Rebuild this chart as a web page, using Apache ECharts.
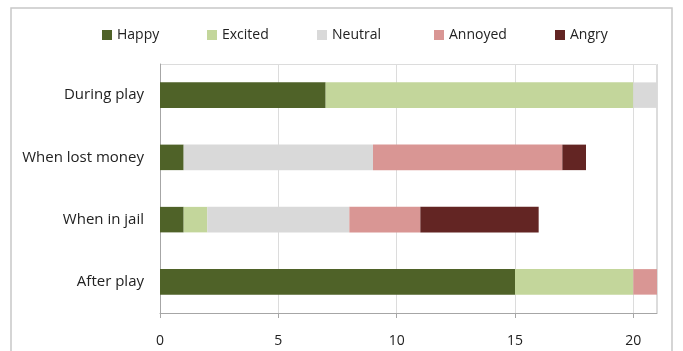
<!DOCTYPE html>
<html>
<head>
<meta charset="utf-8">
<script src="https://cdn.jsdelivr.net/npm/echarts@6/dist/echarts.min.js"></script>
<style>
  html, body { margin: 0; padding: 0; background: #fff; }
  #main { width: 683px; height: 351px; }
</style>
</head>
<body>
<div id="main"></div>
<script>
// 类目（从上到下）
var categories = ['During play', 'When lost money', 'When in jail', 'After play'];
var happy   = [7, 1, 1, 15];
var excited = [13, 0, 1, 5];
var neutral = [1, 8, 6, 0];
var annoyed = [0, 8, 3, 1];
var angry   = [0, 1, 5, 0];
var xTicks = [0, 5, 10, 15, 20];

var seriesNames = ['Happy', 'Excited', 'Neutral', 'Annoyed', 'Angry'];
var seriesData = [happy, excited, neutral, annoyed, angry];
var colors = ['#4f6228', '#c3d69b', '#d9d9d9', '#d99694', '#632523'];
// 图例每项的左边位置
var legendLeft = [102, 207, 317, 434, 555];

var myChart = echarts.init(document.getElementById('main'));
var font = '"Open Sans", "Liberation Sans", sans-serif';

var series = [];
var legends = [];
for (var i = 0; i < seriesNames.length; i++) {
    series.push({
        name: seriesNames[i],
        type: 'bar',
        stack: 'all',
        barWidth: '41%',
        data: seriesData[i],
        itemStyle: { color: colors[i] }
    });
    legends.push({
        data: [seriesNames[i]],
        top: 28,
        left: legendLeft[i],
        padding: 0,
        itemWidth: 10,
        itemHeight: 10,
        itemGap: 0,
        icon: 'rect',
        textStyle: { fontSize: 14, color: '#222', fontFamily: font }
    });
}

var option = {
    animation: false,
    color: colors,
    textStyle: { fontFamily: font },
    legend: legends,
    grid: {
        left: 160,
        right: 26,
        top: 64,
        bottom: 38
    },
    xAxis: {
        type: 'value',
        min: 0,
        max: 21,
        interval: 5,
        axisLine: { show: true, lineStyle: { color: '#a6a6a6' } },
        axisTick: { show: true, length: 5, lineStyle: { color: '#a6a6a6' } },
        axisLabel: {
            color: '#222',
            fontSize: 14,
            margin: 21,
            showMaxLabel: false,
            formatter: function (v) {
                return xTicks.indexOf(v) >= 0 ? String(v) : '';
            }
        },
        splitLine: { show: true, lineStyle: { color: '#dcdcdc' } }
    },
    yAxis: {
        type: 'category',
        inverse: true,
        data: categories,
        axisLine: { show: true, lineStyle: { color: '#a6a6a6' } },
        axisTick: { show: false },
        axisLabel: { color: '#222', fontSize: 15, margin: 16 },
        splitLine: { show: false }
    },
    series: series
};
myChart.setOption(option);
// 外框 + 绘图区上边框和右边框
var rect = myChart.getModel().getComponent('grid').coordinateSystem.getRect();
myChart.setOption({
    graphic: [{
        type: 'rect',
        shape: { x: 11, y: 8, width: 661, height: 360 },
        style: { fill: 'none', stroke: '#c8c8c8', lineWidth: 1.5 },
        silent: true,
        z: -1
    }, {
        type: 'polyline',
        shape: { points: [[rect.x, rect.y + 0.5], [rect.x + rect.width - 0.5, rect.y + 0.5], [rect.x + rect.width - 0.5, rect.y + rect.height]] },
        style: { stroke: '#dcdcdc', lineWidth: 1, fill: 'none' },
        silent: true,
        z: 0
    }]
});
</script>
</body>
</html>
